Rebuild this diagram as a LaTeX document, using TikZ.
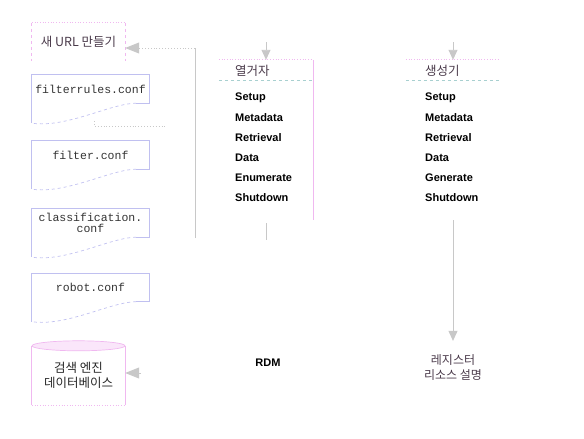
\documentclass[tikz,border=0pt]{standalone}
\usepackage{fontspec}
\setmainfont{Liberation Sans}
\setmonofont{Liberation Mono}
\newfontfamily\krfont{Noto Sans CJK KR}
\usetikzlibrary{arrows.meta, positioning}

\definecolor{linkgray}{HTML}{C8C8C8}
\definecolor{docblue}{HTML}{C0C0F0}
\definecolor{boxpink}{HTML}{F0B8F0}
\definecolor{rulecyan}{HTML}{A8D0D0}
\definecolor{krtext}{HTML}{4A3A4A}

\begin{document}
\begin{tikzpicture}[
    x=1pt, y=-1pt,
    every node/.style={inner sep=0pt, align=center},
    kr/.style={font=\krfont\fontsize{12.5}{15}\selectfont, text=krtext},
    item/.style={font=\bfseries\fontsize{11}{12}\selectfont, anchor=west},
    conf/.style={font=\ttfamily\fontsize{11.5}{11}\selectfont, text=black!80, minimum width=117pt, minimum height=28pt},
    docline/.style={draw=docblue, line width=0.7pt},
    pinkline/.style={draw=boxpink, line width=0.7pt},
    link/.style={draw=linkgray, line width=0.9pt},
    arrow/.style={link, -{Triangle[length=10pt, width=9pt]}},
    sidearrow/.style={link, -{Triangle[length=14pt, width=11pt]}}
]
\useasboundingbox (0,0) rectangle (584,439);

% LEFT COLUMN
\node[kr, minimum width=93pt, minimum height=38pt] (newurl) at (78.5,42) {새 URL 만들기};
\node[conf] (frules) at (90.5,89) {filterrules.conf};
\node[conf] (filt) at (90.5,155) {filter.conf};
\node[conf] (classif) at (90.5,223) {classification.\\conf};
\node[conf] (robot) at (90.5,287.5) {robot.conf};
\node[kr, text=black!85, minimum width=93pt, minimum height=59pt] (searchdb) at (78.5,375.5) {검색 엔진\\데이터베이스};

% ENUMERATOR / GENERATOR
\node[minimum width=94pt, minimum height=160pt] (enum) at (266,140) {};
\node[kr, anchor=west] (enumtitle) at (235,71) {열거자};
\foreach \t [count=\i from 0] in {Setup,Metadata,Retrieval,Data,Enumerate,Shutdown}
  \node[item] (enum\i) at (235,{98+20*\i}) {\t};

\node[minimum width=94pt, minimum height=160pt] (gen) at (453,140) {};
\node[kr, anchor=west] (gentitle) at (425,71) {생성기};
\foreach \t [count=\i from 0] in {Setup,Metadata,Retrieval,Data,Generate,Shutdown}
  \node[item] (gen\i) at (425,{98+20*\i}) {\t};

\node[item, anchor=center] (rdm) at (268,363) {RDM};
\node[kr, font=\krfont\fontsize{12}{15}\selectfont] (regdesc) at (453,368) {레지스터\\리소스 설명};

% OUTLINES
\draw[pinkline, dashed] (newurl.north west) -- (newurl.south west);
\draw[pinkline, dashed] (newurl.north east) -- (newurl.south east);
\draw[pinkline, dotted] (newurl.north west) -- (newurl.north east);

\foreach \n in {frules,filt,classif,robot} {
  \draw[docline] ([yshift=-20pt]\n.south west) -- (\n.north west) -- (\n.north east) -- (\n.south east) -- ++(-13,0);
  \draw[docline, dashed] ([xshift=-13pt]\n.south east) .. controls +(-25,0) and +(35,5) .. ([yshift=-20pt]\n.south west);
}

\draw[pinkline] (searchdb.north west) -- (searchdb.south west) (searchdb.north east) -- (searchdb.south east);
\draw[pinkline, fill=boxpink!35] (searchdb.north) ellipse [x radius=46.5pt, y radius=5pt];
\draw[pinkline, dotted] (searchdb.south west) -- (searchdb.south east);

\draw[pinkline, dotted] (enum.north west) -- (enum.north east);
\draw[pinkline] (enum.north east) -- (enum.south east);
\draw[rulecyan, dashed] ([yshift=-20pt]enum.north west) -- ([yshift=-20pt]enum.north east);

\draw[pinkline, dotted] (gen.north west) -- (gen.north east);
\draw[rulecyan, dashed] ([yshift=-20pt]gen.north west) -- ([yshift=-20pt]gen.north east);

% CONNECTORS
\coordinate (enumin) at (266,42);
\coordinate (genin) at (453,42);
\coordinate (enumtail) at (266,240);
\coordinate (loopfoot) at (195,238);
\coordinate (loopbend) at (195,48);
\coordinate (dbfeed) at (141,373);
\coordinate (frtail) at (94,121);

\draw[arrow] (enumin) -- (enum.north);
\draw[arrow] (genin) -- (gen.north);
\draw[link] ([yshift=-3pt]enum.south) -- (enumtail);
\draw[arrow, shorten >=14pt] (gen.south) -- (regdesc.north);
\draw[link] (loopfoot) -- (loopbend);
\draw[sidearrow, dotted] (loopbend) -- (newurl.east |- loopbend);
\draw[sidearrow] (dbfeed) -- (searchdb.east |- dbfeed);
\draw[link, dotted] (frtail) -- ++(0,5) -- ++(71,0);

\end{tikzpicture}
\end{document}
